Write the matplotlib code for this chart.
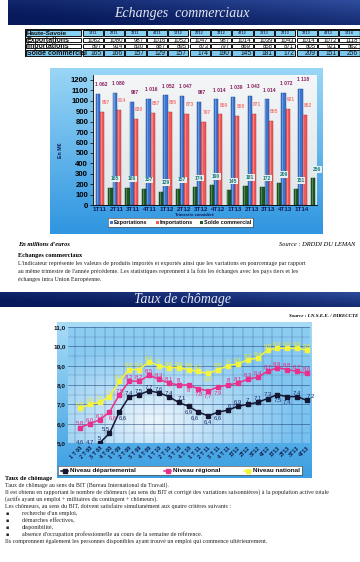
import matplotlib
matplotlib.use('Agg')
import matplotlib.pyplot as plt
import numpy as np
from matplotlib.patches import Rectangle
from matplotlib.lines import Line2D
from matplotlib.colors import to_rgb

# ---------------- data ----------------
table_region = 'Haute-Savoie'
quarters_bar = ['1T11', '2T11', '3T11', '4T11', '1T12', '2T12', '3T12', '4T12',
                '1T13', '2T13', '3T13', '4T13', '1T14']
exports = [1062, 1080, 987, 1016, 1052, 1047, 987, 1014, 1039, 1043, 1014, 1072, 1118]
imports = [897, 914, 830, 887, 895, 873, 797, 869, 858, 871, 805, 921, 862]
solde = [165, 166, 157, 129, 157, 174, 190, 145, 181, 172, 209, 151, 256]
bar_series = ['Exportations', 'Importations', 'Solde commercial']
bar_yticks = list(range(0, 1300, 100))

quarters_line = ['1 T 08', '2 T 08', '3 T 08', '4 T 08', '1 T 09', '2 T 09', '3 T 09', '4 T 09',
                 '1 T 10', '2 T 10', '3 T 10', '4 T 10', '1 T 11', '2 T 11', '3 T 11', '4 T 11',
                 '1T12', '2T12', '3T12', '4T12', '1T13', '2T13', '3T13', '4T13']
dept = [4.6, 4.7, 5.0, 5.5, 6.6, 7.4, 7.5, 7.7, 7.6, 7.4, 7.1, 6.9,
        6.6, 6.4, 6.6, 6.7, 6.9, 7.0, 7.1, 7.3, 7.5, 7.4, 7.4, 7.2]
regional = [5.8, 6.0, 6.2, 6.6, 7.5, 8.2, 8.2, 8.5, 8.3, 8.1, 8.0, 8.0,
            7.8, 7.7, 7.9, 8.0, 8.1, 8.3, 8.4, 8.7, 8.9, 8.8, 8.7, 8.6]
national = [6.8, 7.0, 7.1, 7.4, 8.2, 8.8, 8.8, 9.2, 9.0, 8.9, 8.9, 8.8,
            8.7, 8.6, 8.8, 9.0, 9.1, 9.3, 9.4, 9.8, 9.9, 9.9, 9.9, 9.8]
line_series = ['Niveau départemental', 'Niveau régional', 'Niveau national']
line_yticks = [5.0, 6.0, 7.0, 8.0, 9.0, 10.0, 11.0]
# label placement codes (a=above, b=below, l/r = shift left/right)
dept_pos = ['a', 'a', 'a', 'al', 'br', 'a', 'a', 'a', 'a', 'a', 'ar', 'b',
            'bl', 'b', 'b', 'ar', 'a', 'a', 'a', 'a', 'b', 'b', 'a', 'ar']
reg_pos = ['a', 'a', 'a', 'br', 'a', 'a', 'a', 'a', 'a', 'a', 'a', 'b',
           'b', 'b', 'b', 'a', 'a', 'a', 'a', 'a', 'a', 'a', 'a', 'a']
nat_pos = ['a'] * 13 + ['b'] + ['a'] * 10

# ---------------- helpers ----------------
W, H = 360, 562
fig = plt.figure(figsize=(3.6, 5.62), dpi=100)
fig.patch.set_facecolor('white')

def rect(x0, y0, x1, y1):
    return [x0 / W, 1 - y1 / H, (x1 - x0) / W, (y1 - y0) / H]

def ftext(x, y, s, **kw):
    kw.setdefault('va', 'center')
    return fig.text(x / W, 1 - y / H, s, **kw)

def grad_axes(box, c_top, c_bot, zorder=0, radial=None):
    ax = fig.add_axes(rect(*box), zorder=zorder)
    ax.set_axis_off()
    n = 100
    top = np.array(to_rgb(c_top)); bot = np.array(to_rgb(c_bot))
    xs = np.linspace(0, 1, 120)
    ys = np.linspace(0, 1, n)
    X, Y = np.meshgrid(xs, ys)
    img = top[None, None, :] * (1 - Y[..., None]) + bot[None, None, :] * Y[..., None]
    if radial is not None:
        cx, cy, cc, rad = radial
        d = np.clip(np.sqrt(((X - cx) / rad[0]) ** 2 + ((Y - (1 - cy)) / rad[1]) ** 2), 0, 1)
        d = d[..., None]
        img = np.array(to_rgb(cc))[None, None, :] * (1 - d) + img * d
    ax.imshow(img, aspect='auto', extent=[0, 1, 0, 1], interpolation='bilinear')
    ax.set_xlim(0, 1); ax.set_ylim(0, 1)
    return ax

serif = ['Liberation Serif', 'DejaVu Serif']
sans = ['Liberation Sans', 'DejaVu Sans']

# ---------------- banner 1 ----------------
b1 = fig.add_axes(rect(8, 0, 360, 25), zorder=1)
b1.set_axis_off()
xs = np.linspace(0, 1, 200); ys = np.linspace(0, 1, 40)
X, Y = np.meshgrid(xs, ys)
c1 = np.array(to_rgb('#081a5c')); c2 = np.array(to_rgb('#3a5cb0'))
m = np.clip(0.55 * X + 0.45 * (1 - Y) - 0.15, 0, 1)[..., None] ** 1.4
b1.imshow(c1 * (1 - m) + c2 * m, aspect='auto', extent=[0, 1, 0, 1])
ftext(182, 14, 'Echanges  commerciaux', family=serif, style='italic', fontsize=10,
      color='#e4e8f4', ha='center')

# ---------------- table ----------------
tx0, tx1 = 25, 360
col_w = 21.4
label_w = 57
rows_y = [29, 37, 43, 49, 57]
tab = fig.add_axes(rect(tx0, 29, tx1, 57), zorder=2)
tab.set_xlim(tx0, tx1); tab.set_ylim(57, 29); tab.set_axis_off()
row_labels = [table_region] + bar_series[:2] + [bar_series[2]]
row_vals = [quarters_bar, exports, imports, solde]
row_bg = ['#86d0f2', 'white', 'white', '#7cc8ee']
for r in range(4):
    y0, y1 = rows_y[r], rows_y[r + 1]
    xs_cells = [(tx0, tx0 + label_w)] + [(tx0 + label_w + k * col_w, tx0 + label_w + (k + 1) * col_w)
                                         for k in range(13)]
    for k, (a, b) in enumerate(xs_cells):
        tab.add_patch(Rectangle((a + 0.6, y0 + 0.6), b - a - 1.2, y1 - y0 - 1.2,
                                facecolor=row_bg[r], edgecolor='#111111', lw=0.7))
        if k == 0:
            fs = 4.6 if r in (0,) else 5.0
            tab.text(a + 1.8, (y0 + y1) / 2 + 0.2, row_labels[r], fontsize=fs, weight='bold',
                     family=sans, va='center', ha='left', color='#111111')
        else:
            v = row_vals[r][k - 1]
            if r == 0:
                tab.text((a + b) / 2, (y0 + y1) / 2, str(v), fontsize=2.8, weight='bold',
                         family=sans, va='center', ha='center', color='#333355')
            else:
                fs = 4.8 if r == 3 else 4.3
                tab.text(b - 2.0, (y0 + y1) / 2 + 0.2, str(v), fontsize=fs, family=sans,
                         va='center', ha='right', color='#111111')
tab.add_patch(Rectangle((tx0, 29), tx1 - tx0, 28, fill=False, edgecolor='#111111', lw=1.0))

# ---------------- bar chart ----------------
grad_axes((50, 68, 323, 234), '#9ad6f6', '#2f96e0', zorder=1)
grad_axes((93, 75, 317, 205), '#f4f6f7', '#dfe5e8', zorder=2)
ax = fig.add_axes(rect(93, 75, 317, 205), zorder=3)
ax.patch.set_alpha(0)
n = len(quarters_bar)
idx = np.arange(n)
bw = 0.25
cols = ['#3a76d2', '#f05a5a', '#1d5a22']
edge = ['#1c3f80', '#a02828', '#0b300e']
offs = [0.0, 0.25, 0.75]
for vals, c, e, o in zip([exports, imports, solde], cols, edge, offs):
    ax.bar(idx + o, vals, width=bw, color=c, edgecolor=e, linewidth=0.3, zorder=3)
    ax.bar(idx + o - bw * 0.18, vals, width=bw * 0.25, color='white', alpha=0.25,
           linewidth=0, zorder=4)
for i in range(n):
    ax.text(i + 0.18, exports[i] + 90, f"{exports[i]:,}".replace(',', ' '), fontsize=3.6,
            weight='bold', color='#8a1f5e', ha='center', va='center', family=sans, zorder=6)
    ax.text(i + 0.45, imports[i] + 90, str(imports[i]), fontsize=3.6, weight='bold',
            color='#f27a7a', ha='center', va='center', family=sans, zorder=6)
    ax.text(i + 1.0, solde[i] + 85, str(solde[i]), fontsize=3.6, weight='bold',
            color='#167a7a', ha='center', va='center', family=sans, zorder=6,
            bbox=dict(boxstyle='square,pad=0.15', facecolor='#e6eef0', edgecolor='none'))
ax.set_xlim(-0.29, 12.98)
ax.set_ylim(0, 1248)
ax.set_yticks(bar_yticks)
ax.set_yticklabels([str(v) for v in bar_yticks], fontsize=5.6, weight='bold', family=sans)
ax.set_xticks(idx + 0.1)
ax.set_xticklabels(quarters_bar, fontsize=4.5, weight='bold', color='#0e1a5a', family=sans)
ax.tick_params(axis='x', length=0, pad=1.5)
ax.tick_params(axis='y', length=2, width=0.5, pad=1.5)
for s in ['top', 'right']:
    ax.spines[s].set_visible(False)
ax.spines['left'].set_linewidth(0.6)
ax.spines['bottom'].set_linewidth(0.6)
ftext(194, 215.3, 'Trimestre considéré', fontsize=3.0, weight='bold', color='#0e1a5a',
      ha='center', family=sans)
ftext(61, 150, 'En M€', fontsize=3.8, weight='bold', rotation=90, ha='center',
      color='#0e1a5a', family=sans)
# legend
lg = fig.add_axes(rect(108, 218, 253, 227), zorder=4)
lg.set_xlim(0, 145); lg.set_ylim(0, 9)
lg.set_xticks([]); lg.set_yticks([])
lg.set_facecolor('white')
for s in lg.spines.values():
    s.set_linewidth(0.5); s.set_color('#555555')
for xx, lab, c in zip([1.5, 48, 92], bar_series, cols):
    lg.add_patch(Rectangle((xx, 2.9), 3.0, 3.2, facecolor=c, edgecolor='none'))
    lg.text(xx + 4.0, 4.5, lab, fontsize=4.0, weight='bold', va='center', ha='left',
            color='#111111', family=sans)

# ---------------- texts between charts ----------------
ftext(18, 245, "En millions d'euros", family=serif, style='italic', weight='bold',
      fontsize=4.6, ha='left')
ftext(355, 245, 'Source : DRDDI DU LEMAN', family=serif, style='italic', fontsize=4.6,
      ha='right')
ftext(18, 255, 'Echanges commerciaux', family=serif, weight='bold', fontsize=4.6, ha='left')
para1 = ["L'indicateur représente les valeurs de produits importés et exportés ainsi que les "
         "variations en pourcentage par rapport",
         "au même trimestre de l'année précédente. Les statistiques reprennent à la fois les "
         "échanges avec les pays tiers et les",
         "échanges intra Union Européenne."]
for k, line in enumerate(para1):
    ftext(18, 263 + 8 * k, line, family=serif, fontsize=4.35, ha='left', color='#222222')

# ---------------- banner 2 ----------------
b2 = fig.add_axes(rect(0, 292, 360, 307), zorder=1)
b2.set_axis_off()
b2.imshow(c1 * (1 - m) + c2 * m, aspect='auto', extent=[0, 1, 0, 1])
ftext(182, 299.5, 'Taux de chômage', family=serif, style='italic', fontsize=10,
      color='#e4e8f4', ha='center')
ftext(358, 316, 'Source : I.N.S.E.E. / DIRECCTE', family=serif, style='italic',
      weight='bold', fontsize=3.6, ha='right')

# ---------------- line chart ----------------
grad_axes((57, 322, 312, 478), '#a8dcf6', '#3a9ee2', zorder=1)
grad_axes((68, 327, 310, 443), '#8ecdf2', '#76c0ef', zorder=2,
          radial=(0.35, 0.2, '#eef6fb', (0.6, 0.65)))
ax2 = fig.add_axes(rect(68, 327, 310, 443), zorder=3)
ax2.patch.set_alpha(0)
x = np.arange(len(quarters_line))
ax2.set_xlim(-1.2, 23.3)
ax2.set_ylim(5, 11)
for yv in np.arange(5, 11.01, 0.5):
    ax2.axhline(yv, color='#1d3c78', lw=0.45 if yv % 1 == 0 else 0.3,
                alpha=0.8 if yv % 1 == 0 else 0.45, zorder=1)
for xv in np.arange(-0.5, 23.6, 1):
    ax2.axvline(xv, color='#1d3c78', lw=0.35, alpha=0.6, zorder=1)
line_cols = ['#141632', '#e8308c', '#f4f43c']
lab_cols = ['#1a2c6e', '#e02a8a', '#e6e636']
for vals, c, lc, pos in zip([dept, regional, national], line_cols, lab_cols,
                            [dept_pos, reg_pos, nat_pos]):
    ax2.plot(x, vals, color=c, lw=1.1, marker='s', ms=2.2, zorder=4)
    for i, v in enumerate(vals):
        s = f"{v:.1f}".replace('.', ',')
        if i >= 2 and s.endswith(',0'):
            s = s[:-2]
        p = pos[i]
        yy = max(v, 5.0)
        dy = 0.22 if 'a' in p else -0.28
        if v < 5.0:
            dy = 0.06
        dx = -0.35 if 'l' in p else (0.35 if 'r' in p else 0)
        ax2.text(i + dx, yy + dy, s, fontsize=4.3, color=lc, ha='center', va='center',
                 family=sans, zorder=5, clip_on=False)
ax2.set_yticks(line_yticks)
ax2.set_yticklabels([f"{v:.1f}".replace('.', ',') for v in line_yticks], fontsize=4.6,
                    weight='bold', color='#111122', family=sans)
ax2.set_xticks(x)
ax2.set_xticklabels(quarters_line, rotation=45, ha='right', rotation_mode='anchor',
                    fontsize=3.9, weight='bold', color='#0e1a4a', family=sans)
ax2.tick_params(axis='both', length=0, pad=1.5)
for s in ax2.spines.values():
    s.set_visible(False)
# legend
lg2 = fig.add_axes(rect(58, 466, 302, 475), zorder=4)
lg2.set_xlim(0, 244); lg2.set_ylim(0, 9)
lg2.set_xticks([]); lg2.set_yticks([])
lg2.set_facecolor('white')
for s in lg2.spines.values():
    s.set_linewidth(0.5); s.set_color('#555555')
for xx, lab, c in zip([3, 106, 186], line_series, line_cols):
    lg2.add_artist(Line2D([xx, xx + 7], [4.5, 4.5], color=c, lw=1.1))
    lg2.add_artist(Line2D([xx + 3.5], [4.5], color=c, marker='s', ms=2.2))
    lg2.text(xx + 9, 4.5, lab, fontsize=4.6, weight='bold', va='center', ha='left',
             color='#111111', family=sans)

# ---------------- bottom text ----------------
ftext(5, 478.5, 'Taux de chômage', family=serif, weight='bold', fontsize=4.6, ha='left')
para2 = ["Taux de chômage au sens du BIT (Bureau International du Travail).",
         "Il est obtenu en rapportant le nombre de chômeurs (au sens du BIT et corrigé des "
         "variations saisonnières) à la population active totale",
         "(actifs ayant un emploi + militaires du contingent + chômeurs).",
         "Les chômeurs, au sens du BIT, doivent satisfaire simultanément aux quatre critères "
         "suivants :"]
y0t, dyt = 485.5, 7.0
for k, line in enumerate(para2):
    ftext(5, y0t + dyt * k, line, family=serif, fontsize=4.3, ha='left', color='#222222')
bullets = ["recherche d'un emploi,", "démarches effectives,", "disponibilité,",
           "absence d'occupation professionnelle au cours de la semaine de référence."]
for k, line in enumerate(bullets):
    yy = y0t + dyt * (4 + k)
    ftext(6, yy, '▪', family=['DejaVu Sans'], fontsize=3.5, ha='left', color='#222222')
    ftext(22, yy, line, family=serif, fontsize=4.3, ha='left', color='#222222')
ftext(5, y0t + dyt * 8, "Ils comprennent également les personnes disponibles ayant trouvé "
      "un emploi qui commence ultérieurement.", family=serif, fontsize=4.3, ha='left',
      color='#222222')

fig.savefig('out.png', dpi=100, facecolor='white')
